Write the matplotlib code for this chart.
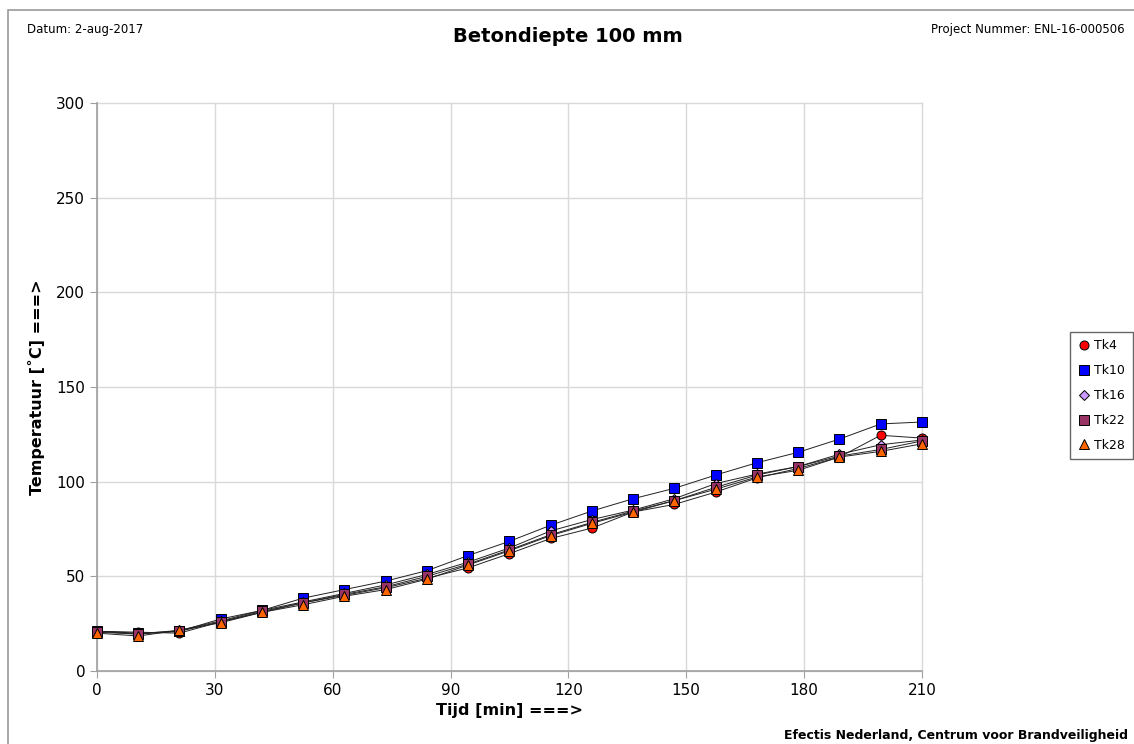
import matplotlib.pyplot as plt
from matplotlib.patches import Rectangle

# time axis (min), one measuring point every 10.5 min
tijd = [0, 10.5, 21, 31.5, 42, 52.5, 63, 73.5, 84, 94.5, 105, 115.5, 126,
        136.5, 147, 157.5, 168, 178.5, 189, 199.5, 210]

tk4 = [21, 20.5, 20, 26, 31, 36, 40, 44, 49, 54.5, 62, 70, 75.5, 84, 88,
       94.5, 102, 107, 113, 124.5, 123]
tk10 = [21, 20, 21, 27.5, 32, 38.5, 43, 47.5, 53, 61, 68.5, 77, 84.5, 91,
        96.5, 103.5, 110, 115.5, 122.5, 130.5, 131.5]
tk16 = [21, 19.5, 21.5, 26.5, 32, 36.5, 41, 45.5, 51, 57.5, 65, 74, 80, 85,
        91, 99, 104, 108, 114.5, 119.5, 122]
tk22 = [20.5, 19.5, 21, 26, 31.5, 36, 40.5, 44.5, 50, 56.5, 64, 72, 78.5,
        84.5, 90, 97, 103.5, 108, 113.5, 117, 121.5]
tk28 = [20, 18.5, 21.5, 25.5, 31, 35, 39.5, 43, 48.5, 56, 63.5, 71.5, 78,
        84, 90, 96, 102.5, 106, 113, 116, 120]

series = [
    ("Tk4", tk4, "o", "#FF0000"),
    ("Tk10", tk10, "s", "#0000FF"),
    ("Tk16", tk16, "D", "#CC99FF"),
    ("Tk22", tk22, "s", "#993366"),
    ("Tk28", tk28, "^", "#FF6600"),
]

x_ticks = list(range(0, 211, 30))
y_ticks = list(range(0, 301, 50))

plt.rcParams["font.family"] = ["DejaVu Sans"]

fig = plt.figure(figsize=(11.34, 7.44), dpi=100)
ax = fig.add_axes([0.0855, 0.0981, 0.7275, 0.7635])

# thin black measurement lines first, markers on top
for name, vals, mk, col in series:
    ax.plot(tijd, vals, color="#222222", linewidth=0.7, zorder=2)
for name, vals, mk, col in series:
    ms = 6.5 if mk != "D" else 5.5
    ax.plot(tijd, vals, linestyle="none", marker=mk, markersize=ms,
            markerfacecolor=col, markeredgecolor="black",
            markeredgewidth=0.7, label=name, zorder=3, clip_on=False)

ax.set_xlim(0, 210)
ax.set_ylim(0, 300)
ax.set_xticks(x_ticks)
ax.set_yticks(y_ticks)
ax.tick_params(labelsize=11, colors="black", length=5, color="#a0a0a0")
ax.grid(True, color="#d9d9d9", linewidth=1)
for gl in ax.get_xgridlines() + ax.get_ygridlines():
    gl.set_clip_on(False)
ax.set_axisbelow(True)
for side in ["top", "right"]:
    ax.spines[side].set_visible(False)
for side in ["left", "bottom"]:
    ax.spines[side].set_color("#a0a0a0")
    ax.spines[side].set_linewidth(1.2)

ax.set_xlabel("Tijd [min] ===>", fontsize=11.5, fontweight="bold", labelpad=4)
ax.set_ylabel("Temperatuur [˚C] ===>", fontsize=11.5, fontweight="bold", labelpad=8)

leg = ax.legend(loc="center left", bbox_to_anchor=(1.18, 0.485), fontsize=9,
                frameon=True, fancybox=False, handletextpad=0.3,
                handlelength=1.0, labelspacing=0.95, borderpad=0.6,
                borderaxespad=0)
leg.get_frame().set_edgecolor("#404040")
leg.get_frame().set_linewidth(1.0)

# page frame and header/footer texts
fig.patches.append(Rectangle((8 / 1134, -0.01), 1.1, 1 - 10 / 744 + 0.01,
                             transform=fig.transFigure, fill=False,
                             edgecolor="#999999", linewidth=1.2))
fig.text(27 / 1134, 1 - 29 / 744, "Datum: 2-aug-2017", fontsize=8.5,
         va="center", ha="left")
fig.text(1125 / 1134, 1 - 29 / 744, "Project Nummer: ENL-16-000506",
         fontsize=8.5, va="center", ha="right")
fig.text(568 / 1134, 1 - 36 / 744, "Betondiepte 100 mm", fontsize=14,
         fontweight="bold", va="center", ha="center")
fig.text(1128 / 1134, 1 - 735 / 744,
         "Efectis Nederland, Centrum voor Brandveiligheid", fontsize=9,
         fontweight="bold", va="center", ha="right")

fig.savefig("out.png", dpi=100)
